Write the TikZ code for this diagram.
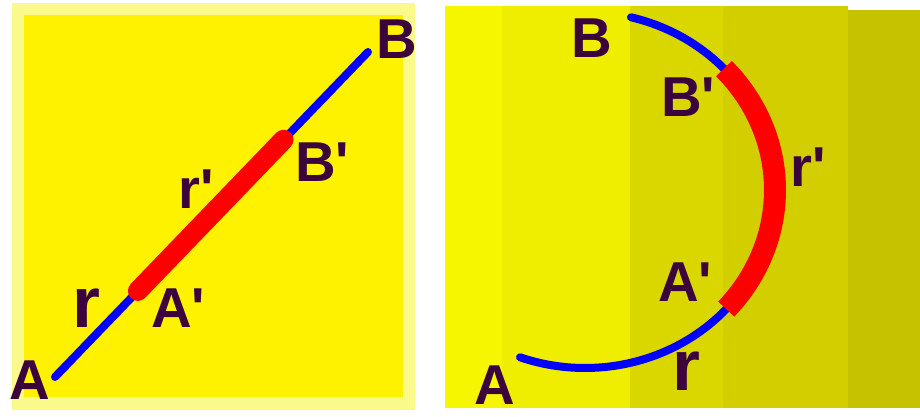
\documentclass[tikz,border=0pt]{standalone}
\usepackage{fontspec}
\setmainfont{Liberation Sans}
\usetikzlibrary{calc}

\definecolor{paleyellow}{RGB}{250,250,140}
\definecolor{bandA}{RGB}{246,246,0}
\definecolor{bandB}{RGB}{240,238,0}
\definecolor{bandC}{RGB}{218,214,0}
\definecolor{bandD}{RGB}{210,206,0}
\definecolor{bandE}{RGB}{198,194,0}
\definecolor{ink}{RGB}{60,4,60}

\newcommand{\pr}{\textquotesingle}

\tikzset{
  lbl/.style={text=ink, inner sep=0pt, font=\fontsize{40}{40}\selectfont\bfseries},
  biglbl/.style={text=ink, inner sep=0pt, font=\fontsize{51}{51}\selectfont\bfseries},
  wire/.style={draw=blue, line width=0.2cm, line cap=round},
  seg/.style={draw=red, line width=0.5cm}
}

\begin{document}
\begin{tikzpicture}[x=0.025cm, y=-0.025cm]
    \useasboundingbox (0,0) rectangle (920,416);

    % Flat board
    \fill[paleyellow] (12,3) rectangle (415,410);
    \fill[yellow] (24,15) rectangle (403,397);

    % Straight segment
    \coordinate (A) at (55,377);
    \coordinate (B) at (368,52);
    \coordinate (Ap) at ($(A)!0.265!(B)$);
    \coordinate (Bp) at ($(A)!0.73!(B)$);
    \draw[wire] (A) -- (B);
    \draw[seg, line cap=round] (Ap) -- (Bp);

    % Labels
    \node[lbl] (labA) at (30,380) {A};
    \node[lbl] (labB) at (397,39) {B};
    \node[lbl] (labAp) at (178,308) {A\pr};
    \node[lbl] (labBp) at (322,162) {B\pr};
    \node[lbl] (labrp) at (196,189) {r\pr};
    \node[biglbl] (labr) at (86,308) {r};

    % Shaded board
    \fill[bandA] (445,6) rectangle (502,408);
    \fill[bandB] (502,6) rectangle (630,408);
    \fill[bandC] (630,6) rectangle (723,408);
    \fill[bandD] (723,6) rectangle (848,408);
    \fill[bandE] (848,10) rectangle (920,408);

    % Curved segment
    \draw[wire] plot[domain=-110:-42, samples=40] ({585+190*cos(\x)},{190-178*sin(\x)});
    \draw[wire] plot[domain=43:76, samples=20] ({585+190*cos(\x)},{190-178*sin(\x)});
    \draw[seg, line width=0.55cm] plot[domain=-42:43, samples=50] ({585+190*cos(\x)},{190-178*sin(\x)});

    % Labels
    \node[lbl] (labA2) at (495,385) {A};
    \node[lbl] (labB2) at (592,38) {B};
    \node[lbl] (labAp2) at (685,282) {A\pr};
    \node[lbl] (labBp2) at (688,97) {B\pr};
    \node[lbl] (labrp2) at (808,167) {r\pr};
    \node[biglbl] (labr2) at (686,371) {r};
\end{tikzpicture}
\end{document}
